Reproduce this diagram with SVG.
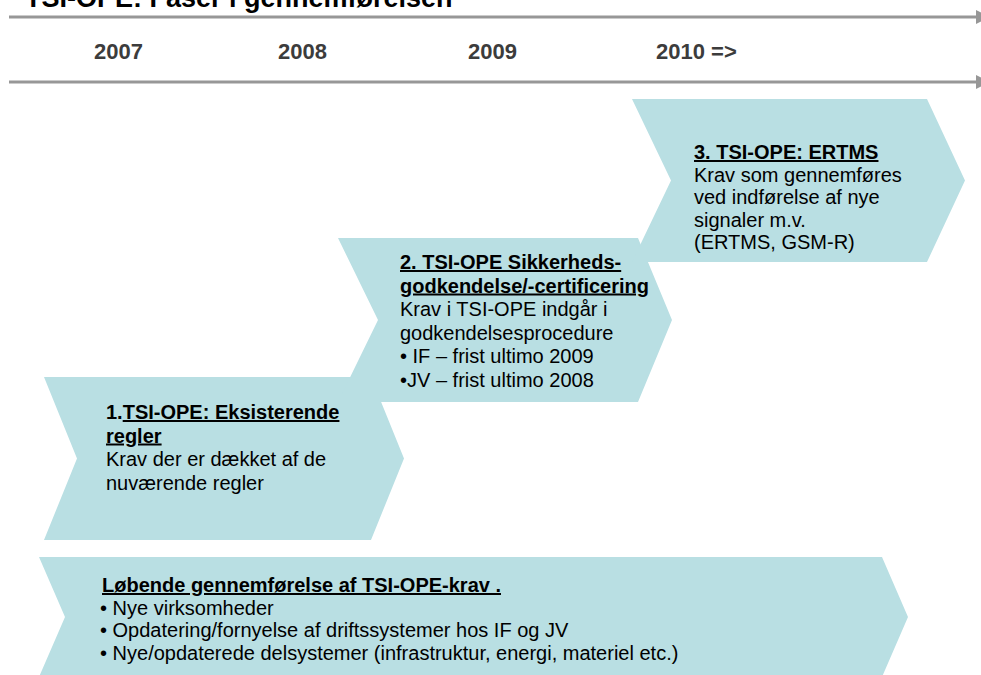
<svg xmlns="http://www.w3.org/2000/svg" width="981" height="675" viewBox="0 0 981 675">
  <style>
    .chev { fill: #b9dfe3; stroke: none; }
    .t { font-family: "Liberation Sans", Arial, sans-serif; font-size: 20px; fill: #000; }
    .b { font-weight: bold; }
    .u { text-decoration: underline; }
    .yr { font-family: "Liberation Sans", Arial, sans-serif; font-size: 22px; font-weight: bold; fill: #3c3c3c; }
    .tl { stroke: #979797; stroke-width: 3; fill: none; }
    .ah { fill: #979797; }
  </style>
  <rect width="981" height="675" fill="#ffffff"/>
  <text x="25" y="7" font-family="Liberation Sans, Arial, sans-serif" font-size="27" font-weight="bold" fill="#000">TSI-OPE: Faser i gennemførelsen</text>

  <g id="timeline">
    <line class="tl" x1="9" y1="17" x2="977" y2="17"/>
    <polygon class="ah" points="976,10 990,17 976,24"/>
    <line class="tl" x1="9" y1="82" x2="977" y2="82"/>
    <polygon class="ah" points="976,75 990,82 976,89"/>
    <text class="yr" x="94" y="59">2007</text>
    <text class="yr" x="278" y="59">2008</text>
    <text class="yr" x="468" y="59">2009</text>
    <text class="yr" x="656" y="59">2010 =&gt;</text>
  </g>

  <g id="phase1">
    <polygon class="chev" points="44,377 371,377 404,458.5 371,540 44,540 77,458.5"/>
    <text class="t b" x="106" y="419">1.<tspan class="u">TSI-OPE: Eksisterende</tspan></text>
    <text class="t b u" x="106" y="442.5">regler</text>
    <text class="t" x="106" y="466">Krav der er dækket af de</text>
    <text class="t" x="106" y="489.5">nuværende regler</text>
  </g>

  <g id="phase2">
    <polygon class="chev" points="338,238 638,238 672,320 638,402 338,402 378,320"/>
    <text class="t b u" x="400" y="269">2. TSI-OPE Sikkerheds-</text>
    <text class="t b u" x="400" y="292.5">godkendelse/-certificering</text>
    <text class="t" x="400" y="316">Krav i TSI-OPE indgår i</text>
    <text class="t" x="400" y="339.5">godkendelsesprocedure</text>
    <text class="t" x="400" y="363">• IF – frist ultimo 2009</text>
    <text class="t" x="400" y="386.5">•JV – frist ultimo 2008</text>
  </g>

  <g id="phase3">
    <polygon class="chev" points="632,99 927,99 965,180.5 927,262 632,262 671,180.5"/>
    <text class="t b u" x="694" y="159">3. TSI-OPE: ERTMS</text>
    <text class="t" x="694" y="181.5">Krav som gennemføres</text>
    <text class="t" x="694" y="204">ved indførelse af nye</text>
    <text class="t" x="694" y="226.5">signaler m.v.</text>
    <text class="t" x="694" y="249">(ERTMS, GSM-R)</text>
  </g>

  <g id="ongoing">
    <polygon class="chev" points="39,557 882,557 908,617 882,677 39,677 65,617"/>
    <text class="t b u" x="102" y="592">Løbende gennemførelse af TSI-OPE-krav .</text>
    <text class="t" x="100" y="614.5">• Nye virksomheder</text>
    <text class="t" x="100" y="637">• Opdatering/fornyelse af driftssystemer hos IF og JV</text>
    <text class="t" x="100" y="659.5">• Nye/opdaterede delsystemer (infrastruktur, energi, materiel etc.)</text>
  </g>

  <g id="connectors"></g>
</svg>
